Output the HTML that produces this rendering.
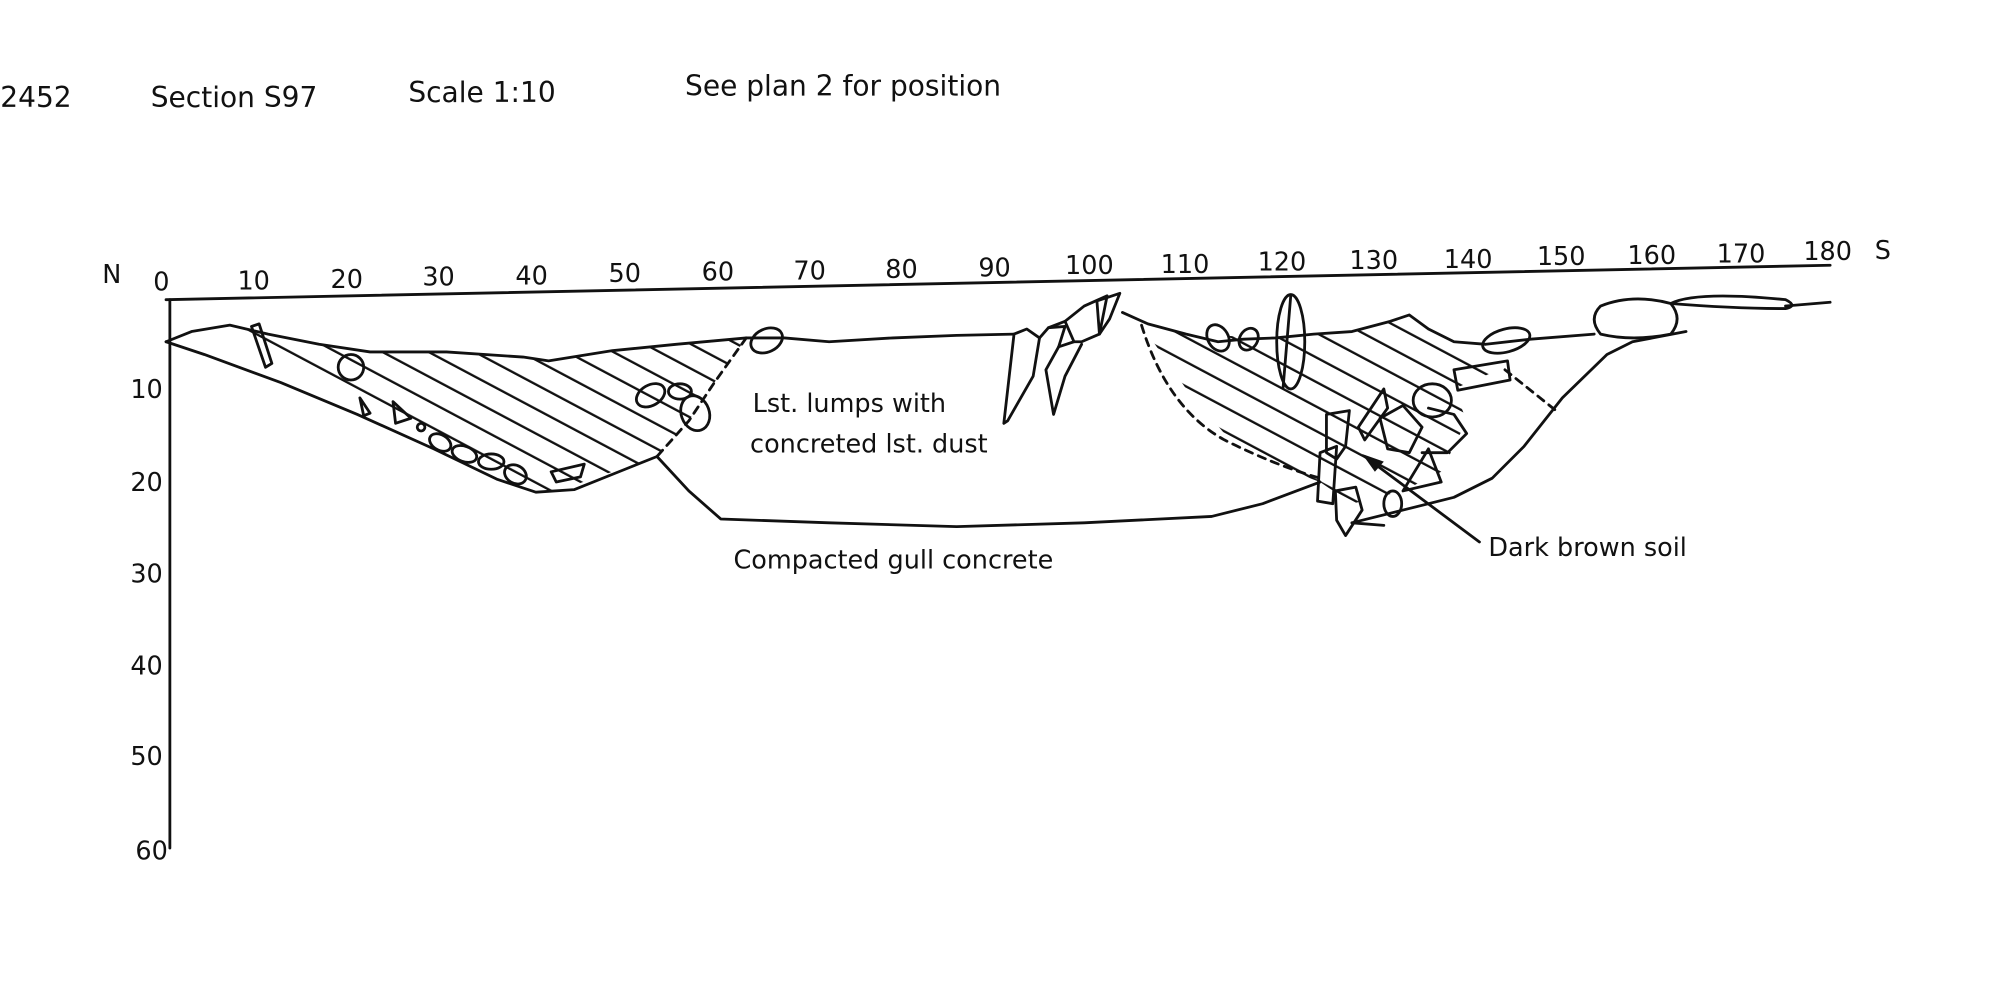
<!DOCTYPE html>
<html><head><meta charset="utf-8"><style>
html,body{margin:0;padding:0;background:#fff;}
svg{display:block;}
text{font-family:"DejaVu Sans","Liberation Sans",sans-serif;fill:#111;}
</style></head><body>
<svg width="2000" height="1001" viewBox="0 0 1568 785" xmlns="http://www.w3.org/2000/svg">
<defs>
<pattern id="h" patternUnits="userSpaceOnUse" width="17" height="17" patternTransform="rotate(28)">
<line x1="0" y1="1" x2="17" y2="1" stroke="#111" stroke-width="1.8"/>
</pattern>
</defs>
<rect width="1568" height="785" fill="#fff"/>
<g font-size="22">
<text x="0" y="84">2452</text>
<text x="118" y="84">Section  S97</text>
<text x="320" y="80">Scale 1:10</text>
<text x="537" y="75">See  plan 2  for  position</text>
</g>
<g font-size="20">
<text x="80" y="222">N</text>
<text x="1470" y="203">S</text>
<text x="120" y="228">0</text>
<text x="186" y="227">10</text>
<text x="259" y="226">20</text>
<text x="331" y="224">30</text>
<text x="404" y="223">40</text>
<text x="477" y="221">50</text>
<text x="550" y="220">60</text>
<text x="622" y="219">70</text>
<text x="694" y="218">80</text>
<text x="767" y="217">90</text>
<text x="835" y="215">100</text>
<text x="910" y="214">110</text>
<text x="986" y="212">120</text>
<text x="1058" y="211">130</text>
<text x="1132" y="210">140</text>
<text x="1205" y="208">150</text>
<text x="1276" y="207">160</text>
<text x="1346" y="206">170</text>
<text x="1414" y="204">180</text>
<text x="102" y="312">10</text>
<text x="102" y="385">20</text>
<text x="102" y="457">30</text>
<text x="102" y="529">40</text>
<text x="102" y="600">50</text>
<text x="106" y="674">60</text>
</g>
<g fill="none" stroke="#111" stroke-width="2.2" stroke-linejoin="round" stroke-linecap="round">
<path d="M130 235 L1435 208"/>
<path d="M133 235 L133 665"/>
<path d="M175 256 L210 262 L250 270 L290 276 L350 276 L410 280 L430 283 L480 275 L530 270 L585 265 L560 300 L540 330 L515 358 L480 370 L440 384 L410 385 L380 375 L330 345 L280 315 L220 285 L175 256Z" fill="url(#h)" stroke="none"/>
<path d="M130 268 L150 260 L180 255 L210 262 L250 270 L290 276 L350 276 L410 280 L430 283 L480 275 L530 270 L585 265 L615 265 L650 268 L700 265 L750 263 L795 262"/>
<path d="M130 268 L160 278 L220 300 L280 325 L340 352 L390 376 L420 386 L450 384 L490 368 L515 358"/>
<path d="M515 358 L540 385 L565 407 L650 410 L750 413 L850 410 L950 405 L990 395 L1035 378"/>
<path d="M585 265 L560 300 L540 330 L515 358" stroke-dasharray="6 5"/>
<path d="M880 245 L900 254 L930 262 L955 268 L975 266 L1000 265 L1030 262 L1060 260 L1090 252 L1105 247 L1120 258 L1140 268 L1165 270 L1200 266 L1250 262"/>
<path d="M895 255 L930 262 L1000 265 L1060 260 L1105 247 L1140 272 L1180 288 L1140 305 L1150 330 L1130 370 L1100 385 L1060 395 L1035 378 L1000 365 L960 340 L930 305Z" fill="url(#h)" stroke="none"/>
<path d="M895 255 Q915 320 960 345 Q1000 365 1035 375" stroke-dasharray="6 5"/>
<path d="M1180 290 L1220 322" stroke-dasharray="6 5"/>
<path d="M1060 410 L1100 400 L1140 390 L1170 375 L1195 350 L1225 312 L1260 278 L1280 268 L1322 260"/>
<path d="M1060 410 L1085 412"/>
<path d="M197 256 L203 254 L213 285 L208 288 Z"/>
<ellipse cx="275" cy="288" rx="10" ry="10"/>
<path d="M282 312 L290 324 L285 326 Z"/>
<path d="M308 315 L322 328 L310 332 Z"/>
<circle cx="330" cy="335" r="3"/>
<ellipse cx="345" cy="347" rx="9" ry="6" transform="rotate(30 345 347)"/>
<ellipse cx="364" cy="356" rx="10" ry="6" transform="rotate(20 364 356)"/>
<ellipse cx="385" cy="362" rx="10" ry="6"/>
<ellipse cx="404" cy="372" rx="9" ry="7" transform="rotate(30 404 372)"/>
<path d="M432 370 L458 364 L455 374 L436 378 Z"/>
<ellipse cx="510" cy="310" rx="12" ry="8" transform="rotate(-30 510 310)"/>
<ellipse cx="533" cy="307" rx="9" ry="6"/>
<ellipse cx="545" cy="324" rx="11" ry="14" transform="rotate(-20 545 324)"/>
<ellipse cx="601" cy="267" rx="13" ry="9" transform="rotate(-25 601 267)"/>
<path d="M795 262 L805 258 L815 265 L810 295 L790 330 L787 332 Z"/>
<path d="M815 265 L822 257 L835 256 L830 272 L820 290 L826 325 L835 295 L848 270"/>
<path d="M822 257 L835 252 L842 268 L830 272"/>
<path d="M835 252 L850 240 L868 232 L862 262 L848 268 L842 268"/>
<path d="M860 236 L878 230 L870 250 L862 262 Z"/>
<ellipse cx="955" cy="265" rx="8" ry="11" transform="rotate(-30 955 265)"/>
<ellipse cx="979" cy="266" rx="7" ry="9" transform="rotate(30 979 266)"/>
<ellipse cx="1012" cy="268" rx="11" ry="37"/>
<path d="M1012 232 L1006 304"/>
<ellipse cx="1181" cy="267" rx="19" ry="9" transform="rotate(-15 1181 267)"/>
<path d="M1140 290 L1182 283 L1184 298 L1143 306 Z"/>
<ellipse cx="1123" cy="314" rx="15" ry="13"/>
<path d="M1065 335 L1085 305 L1088 320 L1070 345 Z"/>
<path d="M1082 328 L1100 318 L1115 335 L1105 355 L1088 352 Z"/>
<path d="M1120 320 L1140 325 L1150 340 L1135 355 L1115 355"/>
<path d="M1100 385 L1120 352 L1130 378 Z"/>
<path d="M1040 325 L1058 322 L1055 350 L1048 360 L1040 355 Z"/>
<path d="M1035 355 L1048 350 L1045 395 L1033 393 Z"/>
<path d="M1047 385 L1063 382 L1068 400 L1055 420 L1048 408 Z"/>
<ellipse cx="1092" cy="395" rx="7" ry="10"/>
<path d="M1255 240 Q1280 230 1310 238 Q1320 250 1310 262 Q1280 268 1255 262 Q1245 250 1255 240Z"/>
<path d="M1310 238 Q1330 228 1400 235 Q1410 240 1400 242 Q1360 242 1310 238"/>
<path d="M1400 240 L1435 237"/>
<path d="M1160 425 L1070 358"/>
</g>
<path d="M1068 356 L1085 362 L1078 370 Z" fill="#111"/>
<g font-size="20">
<text x="590" y="323">Lst. lumps with</text>
<text x="588" y="355">concreted lst. dust</text>
<text x="575" y="446">Compacted gull concrete</text>
<text x="1167" y="436">Dark brown soil</text>
</g>
</svg>
</body></html>
